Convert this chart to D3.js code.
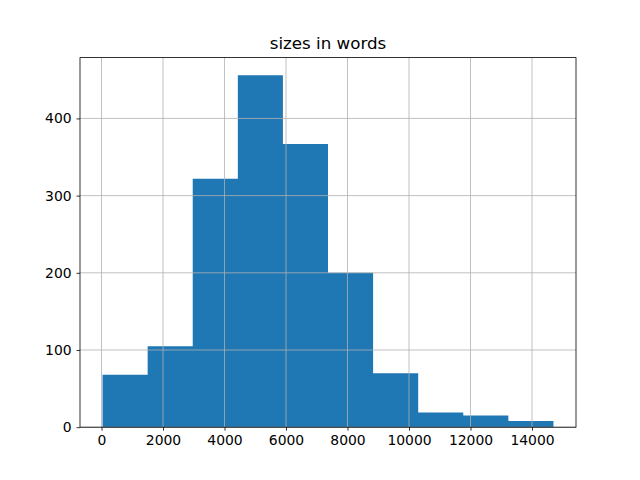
<!DOCTYPE html>
<html>
<head>
<meta charset="utf-8">
<script src="https://cdn.jsdelivr.net/npm/d3@7"></script>
<style>
  body { margin: 0; background: #fff; }
  text { font-family: "DejaVu Sans", sans-serif; }
</style>
</head>
<body>
<svg id="chart" width="640" height="480"></svg>
<script>
// histogram of document sizes
var binEdges = [33, 1500, 2966, 4433, 5899, 7366, 8832, 10299, 11765, 13232, 14698];
var counts = [68, 105, 322, 456, 367, 200, 70, 19, 15, 8];
var xTicks = [0, 2000, 4000, 6000, 8000, 10000, 12000, 14000];
var yTicks = [0, 100, 200, 300, 400];
var title = "sizes in words";

var svg = d3.select("#chart");
// note: "top" clashes with window.top, so use plotTop
var plotLeft = 80, plotRight = 576, plotTop = 57.6, plotBottom = 427.2;

var span = binEdges[binEdges.length - 1] - binEdges[0];
var x = d3.scaleLinear()
    .domain([binEdges[0] - 0.05 * span, binEdges[binEdges.length - 1] + 0.05 * span])
    .range([plotLeft, plotRight]);
var y = d3.scaleLinear()
    .domain([0, d3.max(counts) * 1.05])
    .range([plotBottom, plotTop]);

var bars = counts.map(function(c, i) {
    return { x0: binEdges[i], x1: binEdges[i + 1], count: c };
});

// draw all bars as one path so no seams show between neighbours
var outline = d3.path();
bars.forEach(function(d) {
    outline.rect(x(d.x0), y(d.count), x(d.x1) - x(d.x0), plotBottom - y(d.count));
});
svg.append("path")
    .attr("d", outline.toString())
    .attr("fill", "#1f77b4")
    .attr("fill-rule", "nonzero");

// grid on top of bars
var grid = svg.append("g");
grid.selectAll(".vg").data(xTicks).enter().append("line")
    .attr("x1", function(d) { return x(d); }).attr("x2", function(d) { return x(d); })
    .attr("y1", plotTop).attr("y2", plotBottom)
    .attr("stroke", "#b0b0b0").attr("stroke-width", 0.8);
grid.selectAll(".hg").data(yTicks).enter().append("line")
    .attr("y1", function(d) { return y(d); }).attr("y2", function(d) { return y(d); })
    .attr("x1", plotLeft).attr("x2", plotRight)
    .attr("stroke", "#b0b0b0").attr("stroke-width", 0.8);

var xAxis = svg.append("g")
    .attr("transform", "translate(0," + plotBottom + ")")
    .call(d3.axisBottom(x).tickValues(xTicks).tickFormat(d3.format("d")).tickSize(3.5).tickPadding(4.9));
var yAxis = svg.append("g")
    .attr("transform", "translate(" + plotLeft + ",0)")
    .call(d3.axisLeft(y).tickValues(yTicks).tickFormat(d3.format("d")).tickSize(3.5).tickPadding(4.9));

[xAxis, yAxis].forEach(function(a) {
    a.select(".domain").remove();
    a.selectAll("line").attr("stroke", "#000").attr("stroke-width", 0.8);
    a.selectAll("text").attr("font-size", "13.9px").attr("fill", "#000")
        .attr("font-family", "DejaVu Sans, sans-serif");
});

// spines
svg.append("rect")
    .attr("x", plotLeft).attr("y", plotTop)
    .attr("width", plotRight - plotLeft).attr("height", plotBottom - plotTop)
    .attr("fill", "none").attr("stroke", "#000").attr("stroke-width", 0.8);

svg.append("text")
    .attr("x", (plotLeft + plotRight) / 2)
    .attr("y", plotTop - 9)
    .attr("text-anchor", "middle")
    .attr("font-size", "16.7px")
    .text(title);
</script>
</body>
</html>
